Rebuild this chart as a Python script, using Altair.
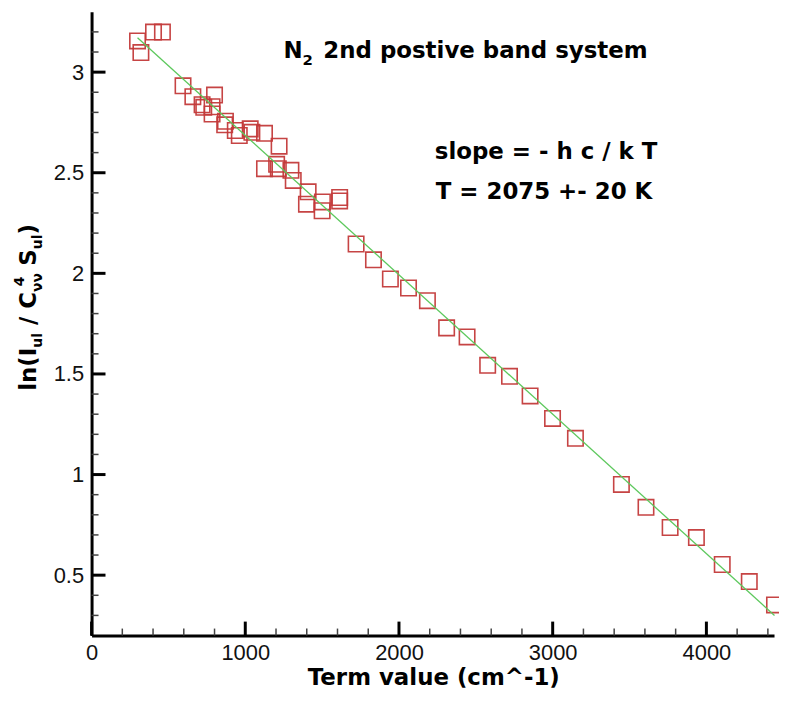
import altair as alt
import pandas as pd

# ---- data ----
term_value = [299, 321, 403, 461, 595, 659, 800, 719, 730, 784, 784, 871, 866, 935, 961,
              1032, 1043, 1125, 1220, 1125, 1204, 1215, 1297, 1312, 1409, 1398, 1502, 1500,
              1614, 1614, 1721, 1834, 1944, 2062, 2185, 2310, 2443, 2577, 2719, 2853, 2999,
              3148, 3447, 3607, 3764, 3935, 4103, 4279, 4443]
ln_ratio = [3.155, 3.097, 3.199, 3.199, 2.932, 2.878, 2.886, 2.838, 2.825, 2.828, 2.792,
            2.756, 2.738, 2.710, 2.685, 2.718, 2.701, 2.696, 2.632, 2.520, 2.542, 2.520,
            2.512, 2.462, 2.405, 2.344, 2.355, 2.311, 2.377, 2.360, 2.146, 2.067, 1.972,
            1.927, 1.864, 1.729, 1.684, 1.543, 1.488, 1.391, 1.279, 1.180, 0.951, 0.837,
            0.737, 0.687, 0.553, 0.468, 0.352]
fit_x = [299, 4443]
fit_y = [3.171, 0.300]

x_major = [0, 1000, 2000, 3000, 4000]
x_minor = [v for v in range(200, 4401, 200) if v % 1000 != 0]
y_major = [0.5, 1.0, 1.5, 2.0, 2.5, 3.0]
y_minor = [round(0.3 + 0.1 * i, 1) for i in range(30) if round((0.3 + 0.1 * i) * 10) % 5 != 0]

W, H = 686, 627
XDOM = [0, 4440]
YDOM = [0.2, 3.3]
xs = alt.Scale(domain=XDOM, nice=False, zero=False)
ys = alt.Scale(domain=YDOM, nice=False, zero=False)

BOLD = "DejaVu Sans"
TICKFONT = "Liberation Sans"

ax_x = alt.Axis(values=x_major, format="d", tickSize=0, grid=False, title=None,
                domainColor="black", domainWidth=3, labelFont=TICKFONT, labelFontSize=22,
                labelColor="#111", labelPadding=7, labelFlush=False)
ax_y = alt.Axis(values=y_major, format="~g", tickSize=0, grid=False, title=None,
                domainColor="black", domainWidth=3, labelFont=TICKFONT, labelFontSize=22,
                labelColor="#111", labelPadding=8)

pts = pd.DataFrame({"x": term_value, "y": ln_ratio})
fit = pd.DataFrame({"x": fit_x, "y": fit_y})

points = alt.Chart(pts).mark_point(
    shape="square", filled=False, size=240, color="#c43a3a", strokeWidth=1.6, opacity=0.95
).encode(
    x=alt.X("x:Q", scale=xs, axis=ax_x),
    y=alt.Y("y:Q", scale=ys, axis=ax_y),
)

line = alt.Chart(fit).mark_line(color="#5cc85c", strokeWidth=1.3).encode(
    x=alt.X("x:Q", scale=xs, axis=ax_x), y=alt.Y("y:Q", scale=ys, axis=ax_y)
)

def xticks(vals, length, width, color):
    return alt.Chart(pd.DataFrame({"x": vals})).mark_rule(color=color, strokeWidth=width).encode(
        x=alt.X("x:Q", scale=xs, axis=ax_x), y=alt.value(H), y2=alt.value(H - length))

def yticks(vals, length, width, color):
    return alt.Chart(pd.DataFrame({"y": vals})).mark_rule(color=color, strokeWidth=width).encode(
        y=alt.Y("y:Q", scale=ys, axis=ax_y), x=alt.value(0), x2=alt.value(length))

ticks = [xticks(x_major, 14, 3, "black"), xticks(x_minor, 7, 1.5, "#444"),
         yticks(y_major, 14, 3, "black"), yticks(y_minor, 7, 1.5, "#444")]

def txt(text, x, y, size, angle=0, align="left", bold=True, font=BOLD):
    return alt.Chart(pd.DataFrame({"t": [text]})).mark_text(
        align=align, baseline="alphabetic", font=font, fontSize=size,
        fontWeight="bold" if bold else "normal", angle=angle, color="black"
    ).encode(text="t:N", x=alt.value(x), y=alt.value(y))

# title N_2 2nd postive band system
texts = [
    txt("N", 193, 46, 23),
    txt("2", 212, 54, 15),
    txt("2nd postive band system", 233, 46, 23),
    txt("slope = - h c / k T", 345, 148, 23),
    txt("T = 2075 +- 20 K", 346, 188, 23),
    txt("Term value (cm^-1)", 344, 677, 23, align="center"),
]

# y-axis title: ln(I_ul / C_vv^4 S_ul), rotated
bx = -56
sx = bx + 6
ytitle = [
    txt("ln(I", bx, 381, 23, angle=270),
    txt("ul", sx, 337.7, 14, angle=270),
    txt("/", bx, 314.9, 23, angle=270),
    txt("C", bx, 298.5, 23, angle=270),
    txt("νν", sx, 281.6, 14, angle=270),
    txt("4", bx - 12, 276, 14, angle=270),
    txt("S", bx, 255.3, 23, angle=270),
    txt("ul", sx, 238.7, 14, angle=270),
    txt(")", bx, 223.9, 23, angle=270),
]

chart = alt.layer(points, line, *ticks, *texts, *ytitle).properties(
    width=W, height=H,
    autosize=alt.AutoSizeParams(type="none"),
    padding={"left": 84, "top": 2, "right": 5, "bottom": 60},
    background="white",
).configure_view(stroke=None)

chart.save("out.html", embed_options={"renderer": "svg", "actions": False})
